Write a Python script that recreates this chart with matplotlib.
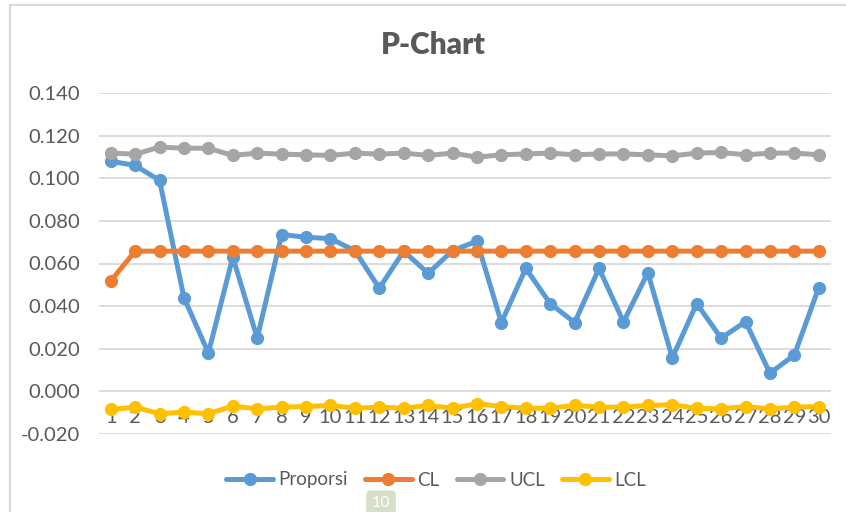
import matplotlib
matplotlib.use("Agg")
import matplotlib.pyplot as plt
from matplotlib.ticker import FormatStrFormatter, MultipleLocator
from matplotlib.patches import Rectangle

samples = list(range(1, 31))
proporsi = [0.108, 0.106, 0.099, 0.044, 0.018, 0.063, 0.025, 0.0736, 0.0723, 0.0717,
            0.066, 0.0484, 0.0658, 0.0554, 0.066, 0.0705, 0.0323, 0.0577, 0.0412, 0.0323,
            0.0577, 0.0326, 0.0557, 0.0157, 0.0412, 0.025, 0.0327, 0.0085, 0.0171, 0.0487]
cl = [0.0518] + [0.0658] * 29
ucl = [0.1118, 0.1113, 0.1146, 0.1141, 0.1141, 0.1107, 0.1118, 0.1113, 0.1110, 0.1107,
       0.1118, 0.1113, 0.1118, 0.1107, 0.1118, 0.1099, 0.1110, 0.1114, 0.1118, 0.1110,
       0.1114, 0.1114, 0.1110, 0.1105, 0.1118, 0.1121, 0.1110, 0.1118, 0.1118, 0.1110]
lcl = [-0.0085, -0.0074, -0.0105, -0.0097, -0.0105, -0.0069, -0.0082, -0.0074, -0.0071, -0.0066,
       -0.0079, -0.0074, -0.0079, -0.0066, -0.0079, -0.0058, -0.0071, -0.0079, -0.0079, -0.0066,
       -0.0074, -0.0074, -0.0066, -0.0063, -0.0079, -0.0082, -0.0071, -0.0082, -0.0074, -0.0071]
series_names = ["Proporsi", "CL", "UCL", "LCL"]
colors = ["#5B9BD5", "#ED7D31", "#A5A5A5", "#FFC000"]
title = "P-Chart"

plt.rcParams['font.family'] = ['Lato', 'DejaVu Sans']

W, H = 846, 512
fig = plt.figure(figsize=(W / 100, H / 100), dpi=100)
fig.patch.set_facecolor("white")

# chart border
fig.add_artist(Rectangle((10 / W, -0.1), 1.2, 1 - 5 / H + 0.1, transform=fig.transFigure,
                         fill=False, edgecolor="#D9D9D9", linewidth=1.5))

left, right = 98.5 / W, 831 / W
bottom, top = 1 - 434 / H, 1 - 93 / H
ax = fig.add_axes([left, bottom, right - left, top - bottom])

for vals, name, c in zip([proporsi, cl, ucl, lcl], series_names, colors):
    ax.plot(samples, vals, color=c, lw=3.6, marker="o", markersize=8.5,
            label=name, zorder=3, clip_on=False, solid_capstyle="round")

ax.set_xlim(0.5, 30.5)
ax.set_ylim(-0.02, 0.14)
ax.yaxis.set_major_locator(MultipleLocator(0.02))
ax.yaxis.set_major_formatter(FormatStrFormatter("%.3f"))
ax.grid(axis="y", color="#D9D9D9", lw=1.3, zorder=0)
ax.set_axisbelow(True)
for s in ["top", "right", "left"]:
    ax.spines[s].set_visible(False)
ax.spines["bottom"].set_position(("data", 0))
ax.spines["bottom"].set_visible(False)
ax.set_xticks(samples)
ax.set_xticklabels([str(s) for s in samples])
ax.tick_params(axis="x", length=0, pad=13, labelsize=14.5, labelcolor="#595959")
ax.tick_params(axis="y", length=0, pad=13, labelsize=14.5, labelcolor="#595959")

fig.text(433 / W, 1 - 45 / H, title, ha="center", va="center", fontsize=21.5,
         fontweight="heavy", color="#595959")

leg = fig.legend(loc="center", bbox_to_anchor=(436 / W, 1 - 480 / H), ncol=4, frameon=False,
                 fontsize=13.5, handlelength=2.5, handletextpad=0.3, columnspacing=0.9,
                 labelcolor="#595959")

fig.text(381 / W, 1 - 503 / H, "10", ha="center", va="center", fontsize=11.5, color="white",
         bbox=dict(boxstyle="round,pad=0.35,rounding_size=0.3", fc="#D6E0C8", ec="none"))

fig.savefig("out.png", dpi=100, facecolor="white")
